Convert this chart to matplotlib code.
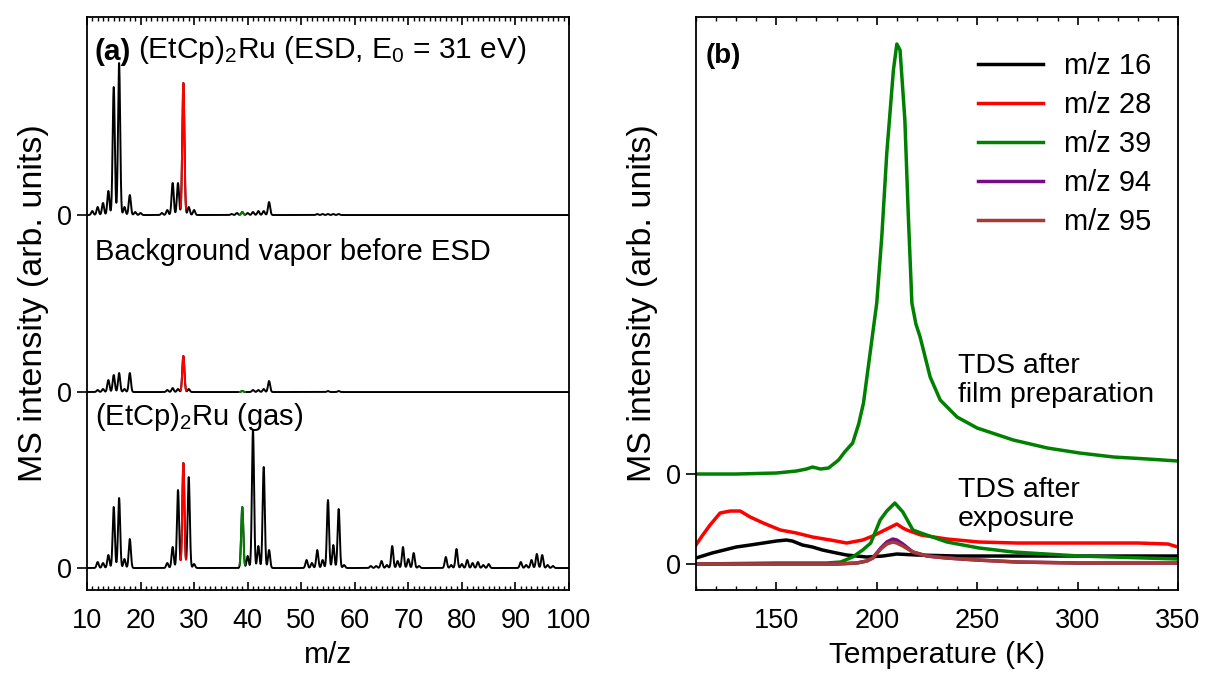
import numpy as np
import matplotlib
matplotlib.use("Agg")
import matplotlib.pyplot as plt
from matplotlib.ticker import MultipleLocator, FixedLocator

plt.rcParams["font.family"] = ["Liberation Sans", "DejaVu Sans"]
plt.rcParams["mathtext.fontset"] = "custom"
plt.rcParams["mathtext.rm"] = "Liberation Sans"
plt.rcParams["mathtext.it"] = "Liberation Sans:italic"
plt.rcParams["mathtext.bf"] = "Liberation Sans:bold"

# ---------------- panel (a): mass spectra (peak lists) ----------------
esd_mz = [11, 12, 13, 14, 15, 16, 17, 18, 19, 20,
          24, 25, 26, 27, 28, 29, 30,
          37, 38, 39, 40, 41, 42, 43, 44,
          53, 54, 55, 56, 57]
esd_h = [4, 8, 12, 24, 128, 152, 8, 20, 3, 2,
         2, 5, 32, 32, 132, 8, 5,
         1, 2, 3, 2, 3, 4, 4, 13,
         1, 1, 1, 1, 1]

bg_mz = [12, 13, 14, 15, 16, 17, 18, 25, 26, 27, 28, 29,
         39, 41, 42, 43, 44, 55, 57]
bg_h = [2, 3, 12, 17, 19, 3, 19, 2, 4, 3, 36, 3,
        1, 2, 2, 3, 11, 1, 1]

gas_mz = [12, 13, 14, 15, 16, 17, 18, 25, 26, 27, 28, 29, 30,
          39, 40, 41, 42, 43, 44, 51, 52, 53, 54, 55, 56, 57, 58,
          63, 64, 65, 66, 67, 68, 69, 70, 71, 72,
          77, 78, 79, 80, 81, 82, 83, 84, 85,
          91, 92, 93, 94, 95, 96, 97]
gas_h = [6, 5, 13, 61, 70, 9, 29, 5, 21, 78, 105, 91, 4,
         61, 12, 138, 22, 101, 18, 8, 5, 18, 8, 68, 23, 59, 3,
         2, 2, 7, 3, 22, 7, 21, 9, 15, 2,
         11, 3, 19, 4, 8, 5, 6, 3, 4,
         6, 3, 8, 14, 13, 3, 2]

spec_offsets = [353, 176, 0]       # ESD, background, gas
highlight = {28: "#ff0000", 39: "#008000"}

# ---------------- panel (b): TDS curves ----------------
t16 = [110, 118, 124, 130, 137, 143.5, 150, 155, 158, 163, 168, 173, 180, 185,
       195, 203, 210, 220, 240, 270, 300, 350]
i16 = [6, 11, 14, 17, 19, 21, 23, 24, 23, 19, 17, 14, 11, 9,
       7, 8, 10, 9, 8, 8, 8, 8]

t28 = [110, 113, 117, 122, 127, 132, 137, 143.5, 152, 160, 168, 177, 185, 193,
       198, 202, 206, 210, 213, 215, 222, 235, 251, 270, 300, 330, 345, 350]
i28 = [19, 28, 39, 51, 53, 53, 47, 41, 34, 31, 27, 24, 21, 24,
       28, 32, 36, 40, 36, 34, 29, 25, 22, 21, 21, 21, 20, 17]

t39 = [110, 150, 175, 182, 188, 193, 197, 201.7, 205, 209, 213, 218, 222,
       235, 251, 268, 301, 350]
i39 = [0, 1, 1, 2, 7, 14, 21, 44, 53, 61, 52, 34, 31,
       22, 16, 12, 8, 5]

t94 = [110, 180, 190, 195, 198, 202, 205, 208, 210, 213, 218, 225, 235, 250,
       270, 300, 350]
i94 = [0, 0, 1, 3, 6, 16, 22, 25, 24, 20, 12, 8, 6, 4, 2, 1, 1]
i95 = [0, 0, 1, 3, 6, 15, 20, 22, 21, 18, 12, 8, 6, 4, 2, 1, 1]

t39_film = [110, 130, 150, 160, 165, 168, 172, 176, 181, 184, 188, 191, 193.4,
            196.7, 200, 202.5, 205, 208.3, 210, 211.6, 214, 215.8, 217.5,
            219.5, 221.6, 226.6, 231.6, 240, 250, 268, 285, 301, 318, 335, 350]
i39_film = [0, 0, 1, 3, 5, 7, 5, 6, 14, 22, 31, 50, 71,
            121, 171, 237, 321, 404, 430, 424, 354, 254, 171,
            150, 137, 97, 74, 57, 46, 34, 26, 21, 17, 15, 13]
film_offset = 90

tds_labels = ["m/z 16", "m/z 28", "m/z 39", "m/z 94", "m/z 95"]
tds_colors = ["#000000", "#ff0000", "#008000", "#7a0a8a", "#a33b36"]


def spectrum(grid, mz, h, width=0.2):
    y = np.zeros_like(grid)
    for m, a in zip(mz, h):
        y += a * np.exp(-0.5 * ((grid - m) / width) ** 2)
    return y


fig = plt.figure(figsize=(12.06, 6.73), dpi=100)
ax_a = fig.add_axes([0.0721, 0.1233, 0.3997, 0.8514])
ax_b = fig.add_axes([0.5771, 0.1233, 0.3997, 0.8514])

# ---- panel (a)
grid = np.linspace(10, 100, 6001)
spectra = [(esd_mz, esd_h), (bg_mz, bg_h), (gas_mz, gas_h)]
for (mz, h), off in zip(spectra, spec_offsets):
    y = spectrum(grid, mz, h) + off
    ax_a.plot(grid, y, color="black", lw=1.4)
    for m, c in highlight.items():
        sel = (grid > m - 0.5) & (grid < m + 0.5)
        ax_a.plot(grid[sel], y[sel], color=c, lw=1.4)

ax_a.set_xlim(10, 100)
ax_a.set_ylim(-22, 551)
ax_a.xaxis.set_major_locator(MultipleLocator(10))
ax_a.xaxis.set_minor_locator(MultipleLocator(1))
ax_a.yaxis.set_major_locator(FixedLocator(spec_offsets))
ax_a.set_yticklabels(["0", "0", "0"])
ax_a.set_xlabel("m/z", fontsize=21.5, labelpad=5)
ax_a.set_ylabel("MS intensity (arb. units)", fontsize=24.5, labelpad=6)

t_a = ax_a.text(11.5, 508, "(a)", fontsize=21.5, fontweight="bold", va="baseline")
ax_a.annotate("(EtCp)$_2$Ru (ESD, E$_0$ = 31 eV)", xy=(1, 0), xycoords=t_a,
              xytext=(5, 0), textcoords="offset points", fontsize=21.5, va="bottom")
ax_a.text(11.5, 308, "Background vapor before ESD", fontsize=21, va="baseline")
ax_a.text(11.5, 143, "(EtCp)$_2$Ru (gas)", fontsize=21, va="baseline")

# ---- panel (b)
curves = [(t16, i16), (t28, i28), (t39, i39), (t94, i94), (t94, i95)]
for (t, i), lab, c in zip(curves, tds_labels, tds_colors):
    ax_b.plot(t, i, color=c, lw=2.5, label=lab)
ax_b.plot(t39_film, np.array(i39_film) + film_offset, color=tds_colors[2], lw=2.5)

ax_b.set_xlim(110, 350)
ax_b.set_ylim(-26, 547)
ax_b.xaxis.set_major_locator(MultipleLocator(50))
ax_b.xaxis.set_minor_locator(MultipleLocator(10))
ax_b.yaxis.set_major_locator(FixedLocator([0, film_offset]))
ax_b.set_yticklabels(["0", "0"])
ax_b.set_xlabel("Temperature (K)", fontsize=21.5, labelpad=5)
ax_b.set_ylabel("MS intensity (arb. units)", fontsize=24.5, labelpad=6)

ax_b.text(115, 501, "(b)", fontsize=20, fontweight="bold", va="baseline")
ax_b.text(240.5, 162, "TDS after\nfilm preparation", fontsize=20.5,
          va="baseline", linespacing=1.15)
ax_b.text(240.5, 38, "TDS after\nexposure", fontsize=20.5,
          va="baseline", linespacing=1.15)

ax_b.legend(loc="upper right", bbox_to_anchor=(1.0, 0.985), frameon=False,
            fontsize=21, handlelength=2.2, handletextpad=0.75, labelspacing=0.38)

for ax in (ax_a, ax_b):
    for s in ax.spines.values():
        s.set_linewidth(1.3)
    ax.tick_params(axis="x", which="both", direction="in", top=True,
                   labelsize=19.5, pad=13)
    ax.tick_params(axis="x", which="major", length=6, width=1.2)
    ax.tick_params(axis="x", which="minor", length=3, width=1.0)
    ax.tick_params(axis="y", which="major", direction="out", length=7,
                   width=1.2, labelsize=19.5, right=False)

fig.savefig("out.png", dpi=100)
